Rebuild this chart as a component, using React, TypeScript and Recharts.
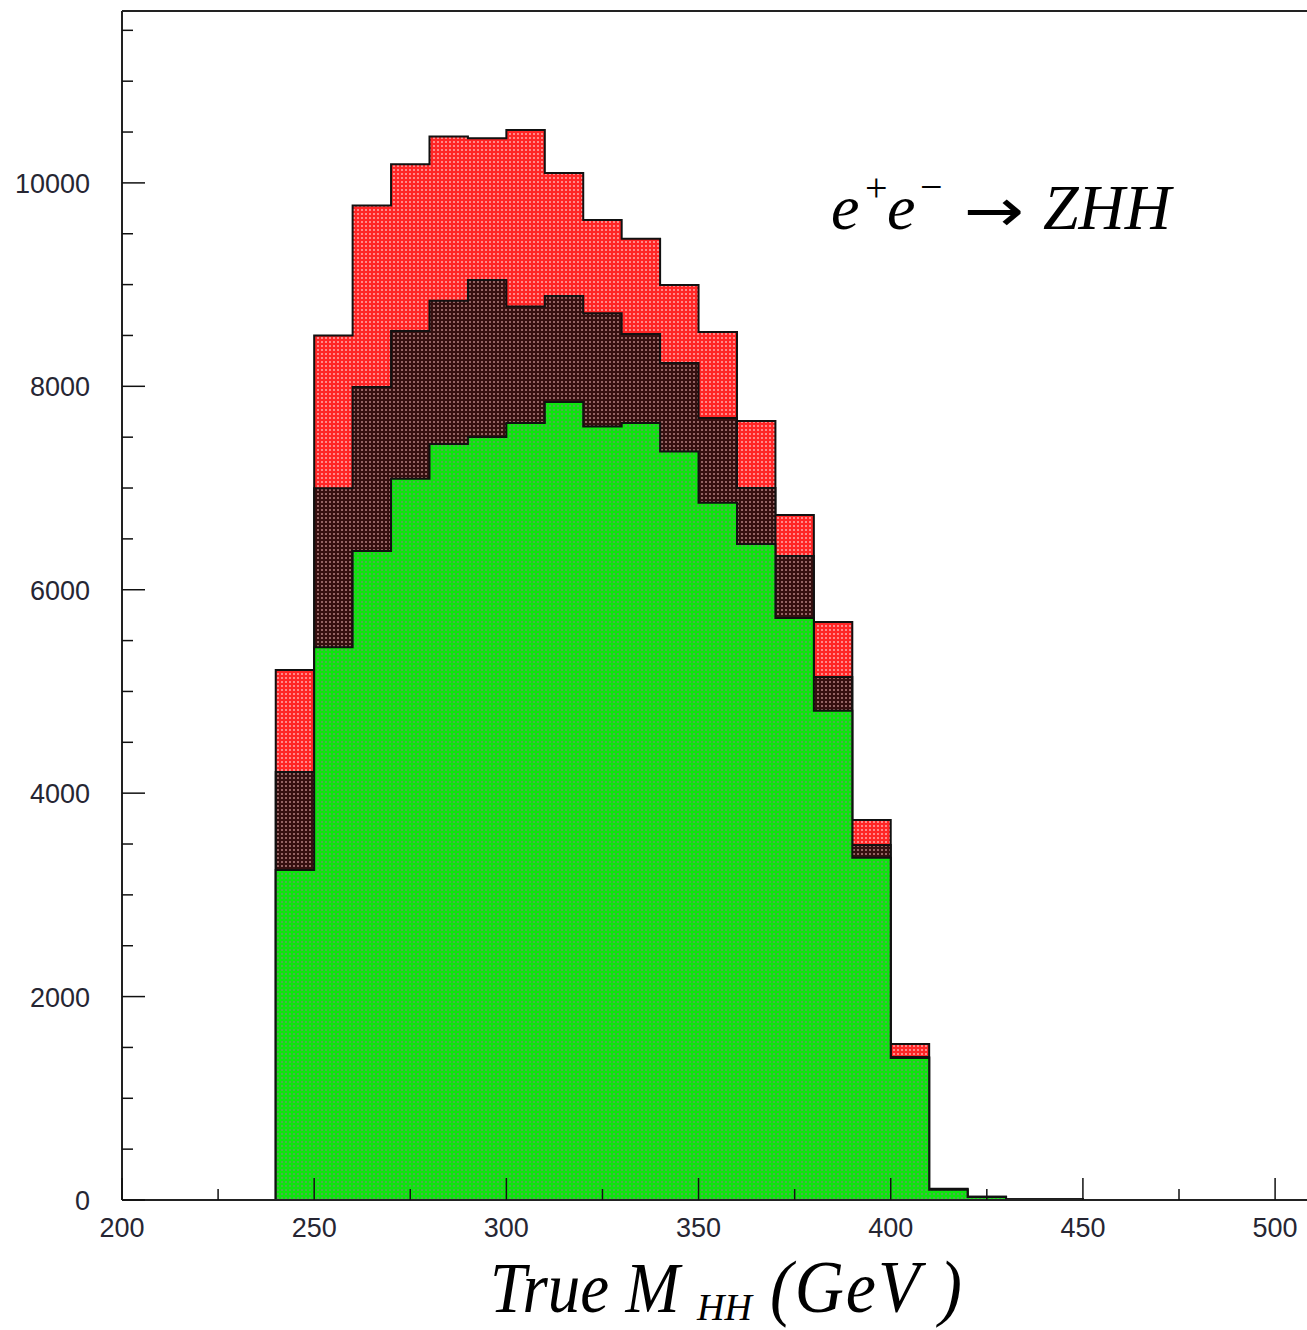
import { AreaChart, Area, XAxis, YAxis, ReferenceLine } from "recharts";

// lower bin edges (GeV), 10 GeV bins
const binEdges = [
  240, 250, 260, 270, 280, 290, 300, 310, 320, 330, 340,
  350, 360, 370, 380, 390, 400, 410, 420, 430, 440,
];
// red histogram (all)
const totalCounts = [
  5211, 8500, 9778, 10184, 10455, 10439, 10520, 10098, 9636, 9450, 8997,
  8535, 7660, 6736, 5683, 3736, 1534, 110, 33, 7, 7,
];
// dark histogram
const middleCounts = [
  4208, 6997, 7994, 8545, 8842, 9046, 8784, 8889, 8718, 8515, 8230,
  7689, 7000, 6332, 5143, 3490, 1405, 106, 31, 6, 6,
];
// green histogram
const greenCounts = [
  3245, 5434, 6382, 7090, 7434, 7502, 7640, 7847, 7604, 7640, 7358,
  6856, 6450, 5723, 4811, 3366, 1396, 100, 29, 5, 5,
];

const xTicks = [200, 225, 250, 275, 300, 325, 350, 375, 400, 425, 450, 475, 500];
const yTicks = [
  0, 500, 1000, 1500, 2000, 2500, 3000, 3500, 4000, 4500, 5000, 5500,
  6000, 6500, 7000, 7500, 8000, 8500, 9000, 9500, 10000, 10500, 11000, 11500,
];

const BIN_WIDTH = 10;
const X_MIN = 200;
const X_MAX = 508.3;
const Y_MAX = 11690;

const histData = [
  { m: binEdges[0], total: 0, middle: 0, green: 0 },
  ...binEdges.map((m, i) => ({
    m,
    total: totalCounts[i],
    middle: middleCounts[i],
    green: greenCounts[i],
  })),
  { m: binEdges[binEdges.length - 1] + BIN_WIDTH, total: 0, middle: 0, green: 0 },
];

const labelFont = "'Liberation Sans', Arial, sans-serif";
const serif = "'Liberation Serif', 'Times New Roman', serif";

function XTick(props: any) {
  const { x, y, payload } = props;
  const major = payload.value % 50 === 0;
  return (
    <g>
      <line x1={x} x2={x} y1={y} y2={y - (major ? 22 : 11)} stroke="#111" strokeWidth={1.5} />
      {major && (
        <text x={x} y={y + 37} textAnchor="middle" fontSize={27} fontFamily={labelFont} fill="#262633">
          {payload.value}
        </text>
      )}
    </g>
  );
}

function YTick(props: any) {
  const { x, y, payload } = props;
  const major = payload.value % 2000 === 0;
  return (
    <g>
      <line x1={x} x2={x + (major ? 23 : 11)} y1={y} y2={y} stroke="#111" strokeWidth={1.5} />
      {major && (
        <text x={x - 32} y={y + 10} textAnchor="end" fontSize={27} fontFamily={labelFont} fill="#262633">
          {payload.value}
        </text>
      )}
    </g>
  );
}

export default function App() {
  return (
    <div style={{ position: "absolute", left: 0, top: 0, width: 1307, height: 1330, background: "#fff" }}>
      <AreaChart
        width={1307}
        height={1330}
        data={histData}
        margin={{ top: 11, right: 0, bottom: 0, left: 0 }}
      >
        <defs>
          <pattern id="redFill" width="4" height="4" patternUnits="userSpaceOnUse">
            <rect width="4" height="4" fill="#ff2626" />
            <rect x="1" y="1" width="2" height="2" fill="#ff8a8a" />
          </pattern>
          <pattern id="darkFill" width="4" height="4" patternUnits="userSpaceOnUse">
            <rect width="4" height="4" fill="#361010" />
            <rect x="1" y="1" width="2" height="2" fill="#946464" />
          </pattern>
          <pattern id="greenFill" width="4" height="4" patternUnits="userSpaceOnUse">
            <rect width="4" height="4" fill="#0ee40e" />
            <rect x="1" y="1" width="2" height="2" fill="#4cb04c" />
          </pattern>
        </defs>
        <XAxis
          dataKey="m"
          type="number"
          domain={[X_MIN, X_MAX]}
          ticks={xTicks}
          allowDataOverflow
          interval={0}
          height={130}
          tickSize={0}
          tickMargin={0}
          tickLine={false}
          tick={<XTick />}
          axisLine={{ stroke: "#222", strokeWidth: 2 }}
        />
        <YAxis
          type="number"
          domain={[0, Y_MAX]}
          ticks={yTicks}
          allowDataOverflow
          interval={0}
          width={122}
          tickSize={0}
          tickMargin={0}
          tickLine={false}
          tick={<YTick />}
          axisLine={{ stroke: "#222", strokeWidth: 2 }}
        />
        <ReferenceLine y={Y_MAX} stroke="#222" strokeWidth={2} />
        <Area
          type="stepAfter"
          dataKey="total"
          stroke="#111"
          strokeWidth={2}
          fill="url(#redFill)"
          fillOpacity={1}
          isAnimationActive={false}
        />
        <Area
          type="stepAfter"
          dataKey="middle"
          stroke="#111"
          strokeWidth={2}
          fill="url(#darkFill)"
          fillOpacity={1}
          isAnimationActive={false}
        />
        <Area
          type="stepAfter"
          dataKey="green"
          stroke="#111"
          strokeWidth={2}
          fill="url(#greenFill)"
          fillOpacity={1}
          isAnimationActive={false}
        />
      </AreaChart>
      <svg
        width={1307}
        height={1330}
        style={{ position: "absolute", left: 0, top: 0, pointerEvents: "none" }}
      >
        <g fontFamily={serif} fill="#000">
          <text x={831} y={229} fontSize={64} fontStyle="italic">e</text>
          <text x={865} y={201} fontSize={40}>+</text>
          <text x={887} y={229} fontSize={64} fontStyle="italic">e</text>
          <text x={920} y={200} fontSize={40}>−</text>
          <g transform="translate(964 231) scale(1.2 1)">
            <text x={0} y={0} fontSize={60} fontFamily="'DejaVu Sans', sans-serif">→</text>
          </g>
          <text x={1043} y={229} fontSize={64} fontStyle="italic">ZHH</text>

          <g transform="translate(490 1312) scale(1 1.1)">
            <text x={0} y={0} fontSize={65} fontStyle="italic">True M</text>
          </g>
          <text x={697} y={1320} fontSize={38} fontStyle="italic">HH</text>
          <g transform="translate(770 1312) scale(1 1.1)">
            <text x={0} y={0} fontSize={68} fontStyle="italic" textLength={192} lengthAdjust="spacing">(GeV )</text>
          </g>
        </g>
      </svg>
    </div>
  );
}
